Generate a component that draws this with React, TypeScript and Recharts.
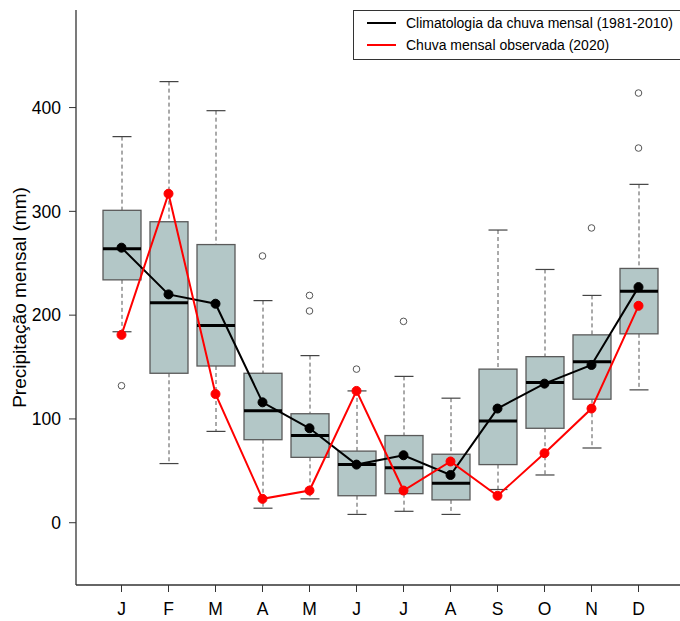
import React from 'react';
import { ComposedChart, Bar, Line, XAxis, YAxis, Label } from 'recharts';

const monthKeys = ['Jan', 'Fev', 'Mar', 'Abr', 'Mai', 'Jun', 'Jul', 'Ago', 'Set', 'Out', 'Nov', 'Dez'];
const tickLabels = ['J', 'F', 'M', 'A', 'M', 'J', 'J', 'A', 'S', 'O', 'N', 'D'];
const yTicks = [0, 100, 200, 300, 400];

const whiskerLow = [184, 57, 88, 14, 23, 8, 11, 8, 32, 46, 72, 128];
const quartile1 = [234, 144, 151, 80, 63, 26, 28, 22, 56, 91, 119, 182];
const median = [264, 212, 190, 108, 84, 56, 53, 38, 98, 135, 155, 223];
const quartile3 = [301, 290, 268, 144, 105, 69, 84, 66, 148, 160, 181, 245];
const whiskerHigh = [372, 425, 397, 214, 161, 127, 141, 120, 282, 244, 219, 326];
const outlierA = [132, null, null, 257, 219, 148, 194, null, null, null, 284, 414];
const outlierB = [null, null, null, null, 204, null, null, null, null, null, null, 361];

const climatology = [265, 220, 211, 116, 91, 56, 65, 46, 110, 134, 152, 227];
const observed = [181, 317, 124, 23, 31, 127, 31, 59, 26, 67, 110, 209];

const legendItems = [
  { label: 'Climatologia da chuva mensal (1981-2010)', color: '#000000' },
  { label: 'Chuva mensal observada (2020)', color: '#ff0000' },
];

const data = monthKeys.map((m, i) => ({
  m,
  range: [whiskerLow[i], whiskerHigh[i]],
  lo: whiskerLow[i],
  q1: quartile1[i],
  med: median[i],
  q3: quartile3[i],
  hi: whiskerHigh[i],
  clim: climatology[i],
  obs: observed[i],
  o1: outlierA[i],
  o2: outlierB[i],
}));

const FONT = '"Liberation Sans", Arial, Helvetica, sans-serif';

const BoxShape = (props: any) => {
  const { x, y, width, height, payload } = props;
  if (x == null || y == null) return null;
  const { lo, hi, q1, med, q3 } = payload;
  const top = Math.min(y, y + height);
  const bottom = Math.max(y, y + height);
  const py = (v: number) => bottom - ((v - lo) / (hi - lo)) * (bottom - top);
  const cx = x + width / 2;
  const capHalf = width / 4;
  return (
    <g>
      <line x1={cx} x2={cx} y1={py(hi)} y2={py(q3)} stroke="#555" strokeWidth={1} strokeDasharray="4 3" />
      <line x1={cx} x2={cx} y1={py(q1)} y2={py(lo)} stroke="#555" strokeWidth={1} strokeDasharray="4 3" />
      <line x1={cx - capHalf} x2={cx + capHalf} y1={py(hi)} y2={py(hi)} stroke="#444" strokeWidth={1.2} />
      <line x1={cx - capHalf} x2={cx + capHalf} y1={py(lo)} y2={py(lo)} stroke="#444" strokeWidth={1.2} />
      <rect x={x} y={py(q3)} width={width} height={py(q1) - py(q3)} fill="#B3C7C7" stroke="#5a5a5a" strokeWidth={1.3} />
      <line x1={x} x2={x + width} y1={py(med)} y2={py(med)} stroke="#000" strokeWidth={3} />
    </g>
  );
};

const OutlierDot = (props: any) => {
  const { cx, cy, index } = props;
  if (cx == null || cy == null || isNaN(cy)) return <g key={`od-${index}`} />;
  return <circle key={`od-${index}`} cx={cx} cy={cy} r={3.3} fill="#fff" stroke="#555" strokeWidth={1} />;
};

const YLabel = () => (
  <text
    x={19}
    y={297.5}
    transform="rotate(-90 19 297.5)"
    textAnchor="middle"
    dominantBaseline="central"
    fontSize={19}
    fontFamily={FONT}
    fill="#000"
  >
    Precipitação mensal (mm)
  </text>
);

export default function App() {
  return (
    <div style={{ position: 'absolute', left: 0, top: 0, width: 680, height: 621, overflow: 'hidden', background: '#fff' }}>
      <ComposedChart
        width={700}
        height={621}
        data={data}
        margin={{ top: 10, right: 16, bottom: 0, left: 0 }}
        style={{ fontFamily: FONT }}
      >
        <XAxis
          dataKey="m"
          interval={0}
          tickFormatter={(_v: any, i: number) => tickLabels[i]}
          padding={{ left: 22, right: 22 }}
          height={36}
          tickSize={7}
          tickMargin={11}
          axisLine={{ stroke: '#333', strokeWidth: 1.3 }}
          tickLine={{ stroke: '#333' }}
          tick={{ fontSize: 17.5, fill: '#000', fontFamily: FONT }}
        />
        <XAxis xAxisId="top" dataKey="m" orientation="top" height={0} tick={false} tickLine={false} axisLine={{ stroke: '#333', strokeWidth: 1.3 }} />
        <YAxis
          domain={[-60, 494]}
          ticks={yTicks}
          type="number"
          allowDataOverflow
          width={76}
          tickSize={7}
          tickMargin={8}
          axisLine={{ stroke: '#333', strokeWidth: 1.3 }}
          tickLine={{ stroke: '#333' }}
          tick={{ fontSize: 17.5, fill: '#000', fontFamily: FONT }}
          label={<Label content={YLabel} />}
        />
        <Bar dataKey="range" barSize={38} shape={BoxShape} isAnimationActive={false} />
        <Line dataKey="o1" stroke="none" dot={OutlierDot} activeDot={false} isAnimationActive={false} legendType="none" />
        <Line dataKey="o2" stroke="none" dot={OutlierDot} activeDot={false} isAnimationActive={false} legendType="none" />
        <Line
          dataKey="clim"
          stroke="#000"
          strokeWidth={2}
          dot={{ r: 4.5, fill: '#000', stroke: '#000', strokeWidth: 1 }}
          activeDot={false}
          isAnimationActive={false}
        />
        <Line
          dataKey="obs"
          stroke="#ff0000"
          strokeWidth={2}
          dot={{ r: 4.5, fill: '#ff0000', stroke: '#ff0000', strokeWidth: 1 }}
          activeDot={false}
          isAnimationActive={false}
        />
      </ComposedChart>
      <div
        style={{
          position: 'absolute',
          left: 353,
          top: 10,
          width: 340,
          height: 50,
          boxSizing: 'border-box',
          border: '1.3px solid #333',
          background: '#fff',
          fontFamily: FONT,
          fontSize: 14,
          color: '#000',
        }}
      >
        {legendItems.map((it, i) => (
          <div key={i} style={{ position: 'absolute', left: 0, top: 3 + i * 22, height: 18, display: 'flex', alignItems: 'center', whiteSpace: 'nowrap' }}>
            <svg width={52} height={18} style={{ display: 'block' }}>
              <line x1={13} x2={42} y1={9} y2={9} stroke={it.color} strokeWidth={2} />
            </svg>
            <span style={{ lineHeight: '18px' }}>{it.label}</span>
          </div>
        ))}
      </div>
    </div>
  );
}
